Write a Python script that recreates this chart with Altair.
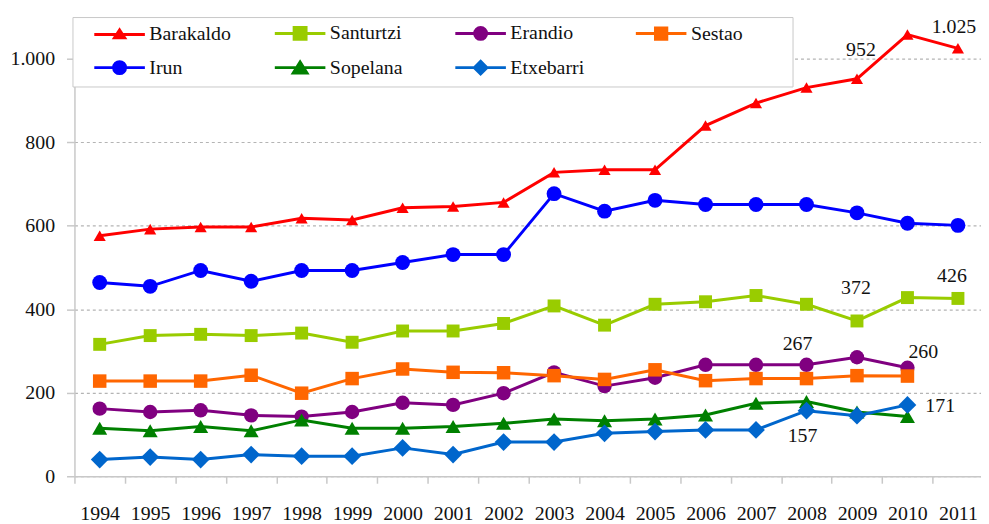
import altair as alt
import pandas as pd

# ---------------- data ----------------
years = list(range(1994, 2012))
cities = ["Barakaldo", "Santurtzi", "Erandio", "Sestao", "Irun", "Sopelana", "Etxebarri"]
# legend order (entries are filled column by column, two rows)
legend_order = ["Barakaldo", "Irun", "Santurtzi", "Sopelana", "Erandio", "Etxebarri", "Sestao"]

barakaldo = [576, 592, 597, 597, 618, 614, 643, 646, 656, 728, 734, 734, 840, 894, 931, 952, 1058, 1025]
santurtzi = [316, 337, 340, 337, 343, 321, 348, 348, 366, 408, 362, 412, 418, 433, 412, 372, 428, 426]
erandio = [162, 154, 158, 146, 143, 154, 176, 171, 199, 249, 216, 236, 267, 267, 267, 285, 260]
sestao = [228, 228, 228, 242, 199, 234, 257, 249, 248, 241, 232, 255, 229, 234, 234, 241, 240]
irun = [464, 455, 493, 467, 493, 493, 512, 531, 531, 677, 635, 661, 651, 651, 651, 631, 606, 601]
sopelana = [115, 109, 119, 109, 135, 115, 115, 119, 127, 137, 133, 137, 147, 175, 179, 154, 143]
etxebarri = [40, 46, 40, 52, 48, 48, 68, 52, 82, 82, 103, 107, 111, 111, 157, 145, 171]

series = [barakaldo, santurtzi, erandio, sestao, irun, sopelana, etxebarri]
y_ticks = [0, 200, 400, 600, 800, 1000]

# labelled points: (city, year)
labelled = [("Barakaldo", 2009), ("Barakaldo", 2011), ("Santurtzi", 2009), ("Santurtzi", 2011),
            ("Erandio", 2008), ("Erandio", 2010), ("Etxebarri", 2008), ("Etxebarri", 2010)]

rows = []
for city, vals in zip(cities, series):
    for yr, v in zip(years, vals):
        rows.append({"city": city, "year": yr, "value": v})
df = pd.DataFrame(rows)

# ---------------- styles ----------------
FONT = "Liberation Serif"
colors = {"Barakaldo": "#FF0000", "Santurtzi": "#99CC00", "Erandio": "#800080", "Sestao": "#FF6600",
          "Irun": "#0000FF", "Sopelana": "#008000", "Etxebarri": "#0066CC"}
marker_shape = {"Barakaldo": "triangle-up", "Santurtzi": "square", "Erandio": "circle", "Sestao": "square",
                "Irun": "circle", "Sopelana": "triangle-up", "Etxebarri": "diamond"}
marker_size = {"Barakaldo": 150, "Santurtzi": 170, "Erandio": 210, "Sestao": 185,
               "Irun": 225, "Sopelana": 230, "Etxebarri": 320}
label_offsets = [(4, -23), (-4, -15), (-1, -27), (-6, -17), (-9, -15), (16, -10), (-4, 32), (33, 7)]

legend_marker = {
    "Barakaldo": "M0,-0.75L0.85,0.55L-0.85,0.55Z",
    "Santurtzi": "M-1,-1H1V1H-1Z",
    "Erandio": "M-1,0A1,1 0 1,0 1,0A1,1 0 1,0 -1,0Z",
    "Sestao": "M-0.95,-0.95H0.95V0.95H-0.95Z",
    "Irun": "M-1,0A1,1 0 1,0 1,0A1,1 0 1,0 -1,0Z",
    "Sopelana": "M0,-0.95L1.15,0.9L-1.15,0.9Z",
    "Etxebarri": "M0,-1.05L1.05,0L0,1.05L-1.05,0Z",
}
legend_paths = ["M-5.9,0M20.08,0M-4.25,0H4.25" + legend_marker[c] for c in legend_order]

W, H = 914, 463
unit = 50.9
x_domain = [years[0] - 0.5, years[0] - 0.5 + W / unit]
tick_vals = [yr - 0.5 for yr in years]

AX_GRAY = "#C8C8C8"

x_enc = alt.X(
    "year:Q",
    scale=alt.Scale(domain=x_domain, nice=False, zero=False),
    axis=alt.Axis(values=tick_vals, labelExpr="format(datum.value + 0.5, 'd')", labelOffset=unit / 2,
                  tickSize=7, labelPadding=21, grid=False, title=None, labelFlush=False,
                  labelOverlap=False, labelBound=False, domainColor=AX_GRAY, tickColor=AX_GRAY,
                  domainWidth=1.5, tickWidth=1.5,
                  labelFont=FONT, labelFontSize=20, labelColor="#111111"),
)
y_enc = alt.Y(
    "value:Q",
    scale=alt.Scale(domain=[0, 1100], nice=False),
    axis=alt.Axis(values=y_ticks, labelExpr="replace(format(datum.value, ','), ',', '.')",
                  tickSize=8, labelPadding=12, grid=True, gridDash=[3, 3], gridColor="#B4B4B4",
                  gridWidth=1.2, title=None, domainColor=AX_GRAY, tickColor=AX_GRAY,
                  domainWidth=1.5, tickWidth=1.5,
                  labelFont=FONT, labelFontSize=20, labelColor="#111111"),
)

layers = []
for city in cities:
    d = df[df.city == city]
    layers.append(alt.Chart(d).mark_line(color=colors[city], strokeWidth=3).encode(x=x_enc, y=y_enc))
    layers.append(alt.Chart(d).mark_point(filled=True, shape=marker_shape[city], size=marker_size[city],
                                          color=colors[city], opacity=1).encode(x=x_enc, y=y_enc))

for (city, yr), (dx, dy) in zip(labelled, label_offsets):
    layers.append(
        alt.Chart(df)
        .transform_filter(f"datum.city == '{city}' && datum.year == {yr}")
        .transform_calculate(lbl="replace(format(datum.value, ','), ',', '.')")
        .mark_text(dx=dx, dy=dy, align="center", baseline="alphabetic", font=FONT, fontSize=20,
                   color="#111111")
        .encode(x=x_enc, y=y_enc, text="lbl:N")
    )

leg = alt.Legend(title=None, orient="none", legendX=-2, legendY=0, columns=4, gridAlign="all",
                 columnPadding=14, rowPadding=9, padding=6, symbolSize=144, symbolStrokeWidth=3,
                 labelOffset=20, symbolOffset=31.5, labelFont=FONT, labelFontSize=20,
                 labelColor="#111111", strokeColor="#C8C8C8", fillColor="white")
color_scale = alt.Scale(domain=legend_order, range=[colors[c] for c in legend_order])
layers.append(
    alt.Chart(df).transform_filter("false")
    .mark_point(filled=True, opacity=1, strokeWidth=3)
    .encode(x=x_enc, y=y_enc,
            fill=alt.Fill("city:N", scale=color_scale, legend=leg),
            stroke=alt.Stroke("city:N", scale=color_scale, legend=leg),
            shape=alt.Shape("city:N", scale=alt.Scale(domain=legend_order, range=legend_paths), legend=leg))
)

chart = (
    alt.layer(*layers)
    .properties(width=W, height=H, padding={"left": 67, "top": 7, "right": 0, "bottom": 46},
                autosize=alt.AutoSizeParams(type="none"))
    .configure_view(stroke=None)
)

chart.save("out.html", embed_options={"renderer": "svg", "actions": False})
